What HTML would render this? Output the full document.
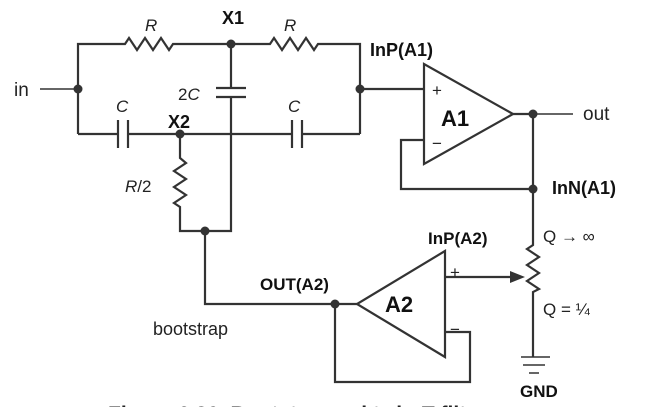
<!DOCTYPE html>
<html><head><meta charset="utf-8"><style>
html,body{margin:0;padding:0;background:#fff;width:659px;height:407px;overflow:hidden}
svg{display:block}
text{font-family:"Liberation Sans",sans-serif;fill:#222}
.h{font-family:"Liberation Sans",sans-serif;font-weight:bold;fill:#111}
</style></head><body>
<svg width="659" height="407" viewBox="0 0 659 407" xmlns="http://www.w3.org/2000/svg">
<g fill="none" stroke="#333" stroke-width="2.2" stroke-linejoin="miter">
<polyline points="78,134 78,44 125,44 129,38 137,50 145,38 153,50 161,38 169,50 173,44 270,44 274,38 282,50 290,38 298,50 306,38 314,50 318,44 360,44 360,134"/>
<polyline points="78,134 118,134"/>
<line x1="118" y1="120" x2="118" y2="148"/>
<line x1="128" y1="120" x2="128" y2="148"/>
<polyline points="128,134 292,134"/>
<line x1="292" y1="120" x2="292" y2="148"/>
<line x1="302" y1="120" x2="302" y2="148"/>
<polyline points="302,134 360,134"/>
<polyline points="231,44 231,88"/>
<line x1="216" y1="88" x2="246" y2="88"/>
<line x1="216" y1="97" x2="246" y2="97"/>
<polyline points="231,97 231,231 180,231 180,207 174,203 186,195 174,187 186,179 174,171 186,163 180,158 180,134"/>
<polygon points="424,64 424,164 513,114"/>
<line x1="360" y1="89" x2="424" y2="89"/>
<polyline points="424,140 401,140 401,189 533,189"/>
<line x1="513" y1="114" x2="533" y2="114"/>
<polyline points="533,114 533,245 527,249 539,257 527,265 539,273 527,281 539,289 533,292 533,357"/>
<polygon points="445,251 445,357 357,304"/>
<polyline points="205,231 205,304 357,304"/>
<polyline points="445,332 470,332 470,382 335,382 335,304"/>
<line x1="445" y1="277" x2="512" y2="277"/>
</g>
<g fill="none" stroke="#333" stroke-width="1.5">
<line x1="40" y1="89" x2="78" y2="89"/>
<line x1="533" y1="114" x2="573" y2="114"/>
<line x1="521" y1="357" x2="550" y2="357"/>
<line x1="523" y1="365" x2="545" y2="365"/>
<line x1="529" y1="373" x2="539" y2="373"/>
</g>
<polygon points="525,277 510,271 510,283" fill="#333"/>
<g fill="#333">
<circle cx="78" cy="89" r="4.5"/><circle cx="231" cy="44" r="4.5"/><circle cx="360" cy="89" r="4.5"/>
<circle cx="180" cy="134" r="4.5"/><circle cx="205" cy="231" r="4.5"/><circle cx="533" cy="114" r="4.5"/>
<circle cx="533" cy="189" r="4.5"/><circle cx="335" cy="304" r="4.5"/>
</g>
<text x="14" y="96" font-size="19">in</text>
<text x="145" y="31" font-size="17" font-style="italic">R</text>
<text x="284" y="31" font-size="17" font-style="italic">R</text>
<text x="178" y="100" font-size="17">2<tspan font-style="italic">C</tspan></text>
<text x="116" y="112" font-size="17" font-style="italic">C</text>
<text x="288" y="112" font-size="17" font-style="italic">C</text>
<text x="125" y="192" font-size="17"><tspan font-style="italic">R</tspan>/2</text>
<text x="583" y="120" font-size="19">out</text>
<text x="432" y="96" font-size="17">+</text>
<text x="432" y="149" font-size="17">−</text>
<text x="450" y="278" font-size="17">+</text>
<text x="450" y="335" font-size="17">−</text>
<text x="153" y="335" font-size="18">bootstrap</text>
<text x="543" y="242" font-size="17">Q → ∞</text>
<text x="543" y="315" font-size="17">Q = ¼</text>
<text class="h" x="222" y="24" font-size="18">X1</text>
<text class="h" x="168" y="128" font-size="18">X2</text>
<text class="h" x="370" y="56" font-size="18">InP(A1)</text>
<text class="h" x="552" y="194" font-size="18">InN(A1)</text>
<text class="h" x="428" y="244" font-size="17">InP(A2)</text>
<text class="h" x="260" y="290" font-size="17">OUT(A2)</text>
<text class="h" x="441" y="126" font-size="22">A1</text>
<text class="h" x="385" y="312" font-size="22">A2</text>
<text class="h" x="520" y="397" font-size="17">GND</text>
<text x="108" y="421" font-size="21" font-weight="bold" fill="#111">Figure 6.30. Bootstrapped twin-T filter</text>
</svg>
</body></html>
